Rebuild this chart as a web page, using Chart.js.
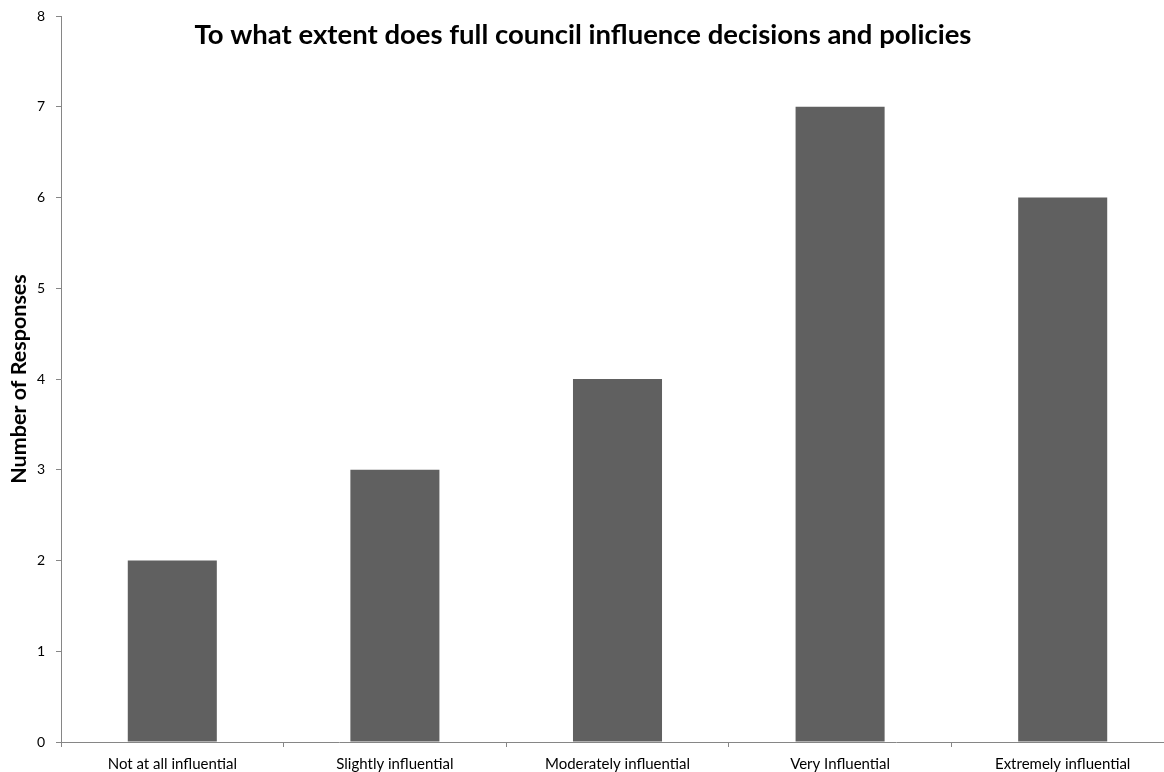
<!DOCTYPE html>
<html lang="en">
<head>
	<meta charset="UTF-8">
	<title>full council influence</title>
	<script src="https://cdn.jsdelivr.net/npm/chart.js@4/dist/chart.umd.min.js"></script>
	<style>
		html,body{margin:0;padding:0;background:#fff;overflow:hidden;}
		#wrap{width:1174px;height:772px;}
	</style>
</head>
<body>
	<div id="wrap"><canvas id="chart" width="1174" height="772"></canvas></div>

	<script>
		var categories=["Not at all influential","Slightly influential","Moderately influential","Very Influential","Extremely influential"];
		var responses=[2,3,4,7,6];
		var yTicks=[0,1,2,3,4,5,6,7,8];
		var chartTitle="To what extent does full council influence decisions and policies";
		var yTitle="Number of Responses";

		var FONT="Lato, 'Open Sans', sans-serif";

		// title sits inside the plot area, so draw it ourselves
		var titlePlugin={
			id:"innerTitle",
			afterDraw:function(chart){
				var ctx=chart.ctx;
				ctx.save();
				ctx.font="bold 27.5px "+FONT;
				ctx.fillStyle="#000";
				ctx.textAlign="center";
				ctx.textBaseline="middle";
				ctx.fillText(chartTitle,583,35);
				ctx.restore();
			}
		};

		new Chart(document.getElementById("chart"),{
			type:"bar",
			data:{
				labels:categories,
				datasets:[{
					data:responses,
					backgroundColor:"#606060",
					borderWidth:0,
					barPercentage:0.4,
					categoryPercentage:1
				}]
			},
			options:{
				responsive:false,
				animation:false,
				layout:{padding:{top:16,left:0,right:0,bottom:0}},
				plugins:{legend:{display:false},tooltip:{enabled:false},title:{display:false}},
				scales:{
					x:{
						grid:{drawOnChartArea:false,drawTicks:true,tickLength:5,color:"#868686",offset:true},
						border:{color:"#868686",width:1},
						ticks:{color:"#000",font:{family:FONT,size:15},padding:8,maxRotation:0},
						afterFit:function(s){s.height=30;s.paddingLeft=0;s.paddingRight=0;}
					},
					y:{
						min:0,max:8,
						afterBuildTicks:function(s){s.ticks=yTicks.map(function(v){return {value:v};});},
						grid:{drawOnChartArea:false,drawTicks:true,tickLength:5,color:"#868686"},
						border:{color:"#868686",width:1},
						ticks:{color:"#000",font:{family:FONT,size:14},padding:11},
						title:{display:true,text:yTitle,color:"#000",font:{family:FONT,size:21.5,weight:"bold"},padding:{top:6,bottom:0}},
						afterFit:function(s){s.width=61;s.paddingTop=0;s.paddingBottom=0;}
					}
				}
			},
			plugins:[titlePlugin]
		});
	</script>
</body>
</html>
